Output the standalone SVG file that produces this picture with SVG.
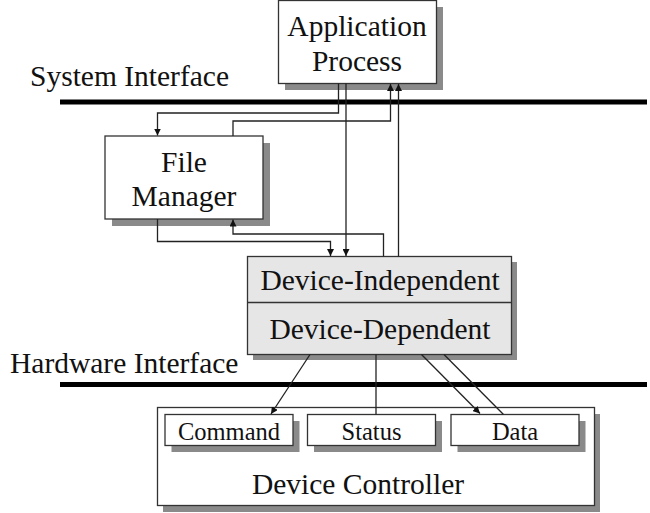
<svg xmlns="http://www.w3.org/2000/svg" width="650" height="513" viewBox="0 0 650 513">
<style>
text{font-family:"Liberation Serif","Times New Roman",serif;fill:#111;text-anchor:middle}
.big{font-size:29.5px}
.sm{font-size:24.5px}
.lbl{text-anchor:start}
.box{fill:#fff;stroke:#333;stroke-width:1.3}
.gbox{fill:#e6e6e6;stroke:#333;stroke-width:1.3}
.sh{fill:#8a8a8a}
.bar{stroke:#000;stroke-width:5}
.c{fill:none;stroke:#222;stroke-width:1.3}
</style>
<defs>
<marker id="ah" viewBox="0 0 10 10" refX="10" refY="5" markerWidth="7" markerHeight="7" markerUnits="userSpaceOnUse" orient="auto">
<path d="M0,0 L10,5 L0,10 z" fill="#111"/>
</marker>
</defs>
<rect width="650" height="513" fill="#fff"/>
<g id="interfaces">
<line class="bar" x1="60" y1="102" x2="647" y2="102"/>
<line class="bar" x1="60" y1="384.5" x2="647" y2="384.5"/>
<text class="big lbl" x="30" y="85.5">System Interface</text>
<text class="big lbl" x="10" y="373">Hardware Interface</text>
</g>
<g id="app-process">
<rect class="sh" x="285" y="7" width="158" height="83"/>
<rect class="box" x="278.5" y="0.5" width="158" height="83"/>
<text class="big" x="357" y="36">Application</text>
<text class="big" x="357" y="71">Process</text>
</g>
<g id="file-manager">
<rect class="sh" x="112" y="143" width="158" height="83"/>
<rect class="box" x="105" y="136" width="158" height="83"/>
<text class="big" x="184" y="171.5">File</text>
<text class="big" x="184" y="206">Manager</text>
</g>
<g id="device-driver">
<rect class="sh" x="253" y="262" width="264" height="98"/>
<rect class="gbox" x="247.5" y="256.5" width="264" height="98"/>
<line x1="247.5" y1="302.5" x2="511.5" y2="302.5" stroke="#333" stroke-width="1.3"/>
<text class="big" x="380" y="289.5">Device-Independent</text>
<text class="big" x="380" y="338.5">Device-Dependent</text>
</g>
<g id="device-controller">
<rect class="sh" x="163" y="414" width="437" height="98"/>
<rect class="box" x="157.5" y="407.5" width="437" height="98"/>
<text class="big" x="358" y="493.5">Device Controller</text>
</g>
<g id="command">
<rect class="sh" x="171.5" y="421" width="128" height="31"/>
<rect class="box" x="165" y="414.5" width="128" height="31"/>
<text class="sm" x="229" y="440">Command</text>
</g>
<g id="status">
<rect class="sh" x="314" y="421" width="128" height="31"/>
<rect class="box" x="307.5" y="414.5" width="128" height="31"/>
<text class="sm" x="371.5" y="439.5">Status</text>
</g>
<g id="data">
<rect class="sh" x="457.5" y="421" width="128" height="31"/>
<rect class="box" x="451" y="414.5" width="128" height="31"/>
<text class="sm" x="515" y="440">Data</text>
</g>
<g id="connectors">
<path class="c" d="M338.5,83.5 V113 H157.5 V135.5" marker-end="url(#ah)"/>
<path class="c" d="M346,83.5 V256" marker-end="url(#ah)"/>
<path class="c" d="M233,136 V121 H390.5 V84" marker-end="url(#ah)"/>
<path class="c" d="M398.5,256.5 V84" marker-end="url(#ah)"/>
<path class="c" d="M157.5,219 V241.5 H330.5 V256" marker-end="url(#ah)"/>
<path class="c" d="M383.5,256.5 V234 H233 V219.5" marker-end="url(#ah)"/>
<path class="c" d="M310,354.5 L271,414" marker-end="url(#ah)"/>
<path class="c" d="M376,354.5 V414.5"/>
<path class="c" d="M421.5,354.5 L480,413.5" marker-end="url(#ah)"/>
<path class="c" d="M444,354.5 L503.5,414.5"/>
</g>
</svg>
